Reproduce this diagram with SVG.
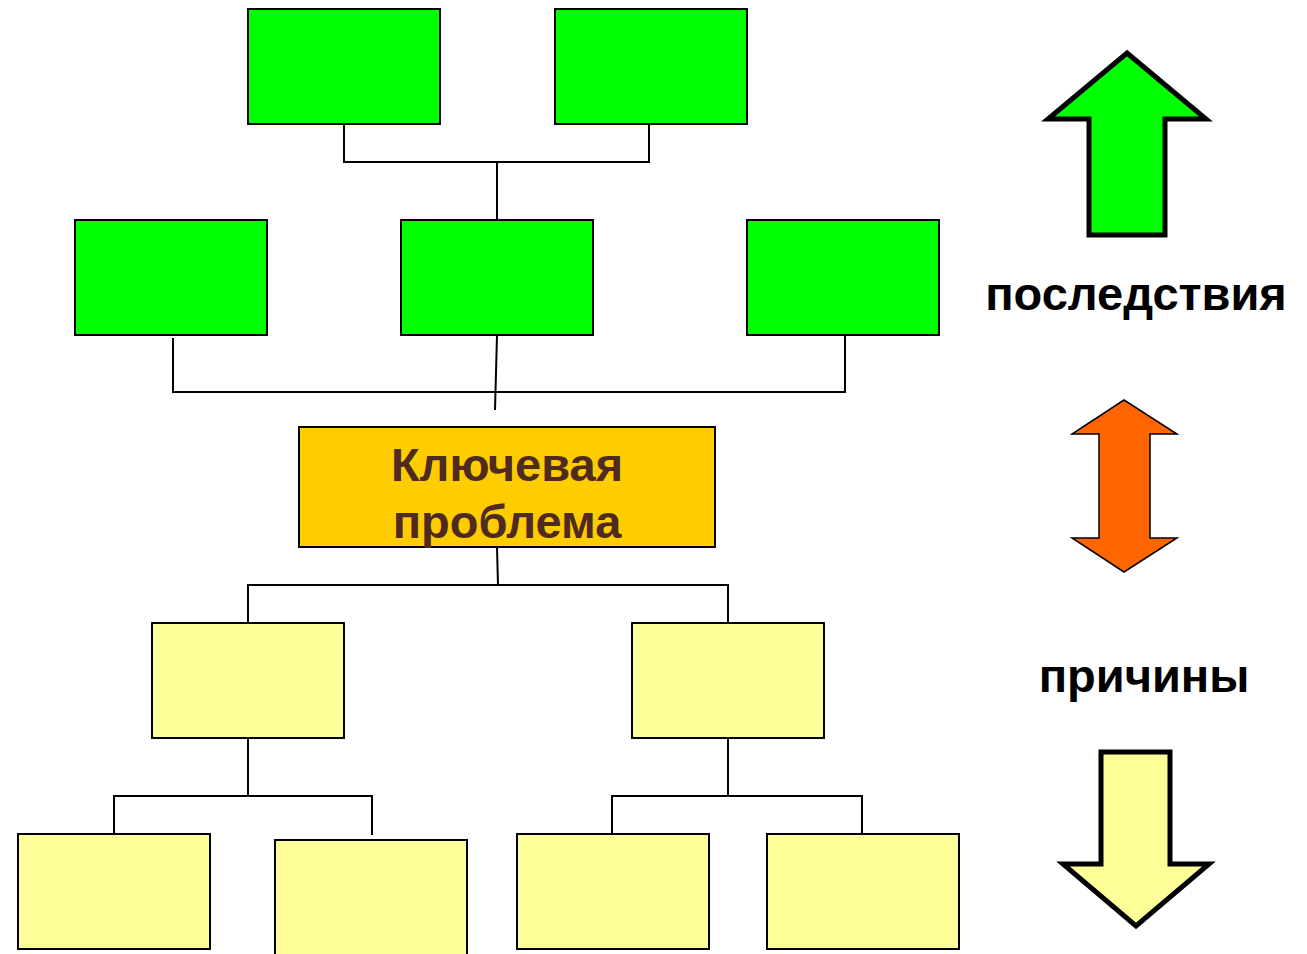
<svg xmlns="http://www.w3.org/2000/svg" width="1307" height="954" viewBox="0 0 1307 954">
<style>
.g{fill:#00FF00;stroke:#000;stroke-width:2}
.y{fill:#FFFF99;stroke:#000;stroke-width:2}
.k{fill:#FFCC00;stroke:#000;stroke-width:2}
.c{fill:none;stroke:#000;stroke-width:2}
.t{font-family:"Liberation Sans",Arial,sans-serif;font-weight:bold;font-size:47px;text-anchor:middle}
</style>
<rect width="1307" height="954" fill="#fff"/>
<g id="connectors">
<polyline class="c" points="344,124 344,162 649,162 649,124"/>
<line class="c" x1="497" y1="162" x2="497" y2="220"/>
<polyline class="c" points="173,338 173,392 845,392 845,335"/>
<line class="c" x1="497" y1="335" x2="495" y2="410"/>
<line class="c" x1="497" y1="547" x2="498" y2="585"/>
<polyline class="c" points="248,623 248,585 728,585 728,623"/>
<line class="c" x1="248" y1="738" x2="248" y2="796"/>
<polyline class="c" points="114,834 114,796 372,796 372,835"/>
<line class="c" x1="728" y1="738" x2="728" y2="796"/>
<polyline class="c" points="612,834 612,796 862,796 862,834"/>
</g>
<g id="c1"><rect class="g" x="248" y="9" width="192" height="115"/></g>
<g id="c2"><rect class="g" x="555" y="9" width="192" height="115"/></g>
<g id="c3"><rect class="g" x="75" y="220" width="192" height="115"/></g>
<g id="c4"><rect class="g" x="401" y="220" width="192" height="115"/></g>
<g id="c5"><rect class="g" x="747" y="220" width="192" height="115"/></g>
<g id="key"><rect class="k" x="299" y="427" width="416" height="120"/>
<text class="t" x="507" y="481" fill="#4F2A1F">Ключевая</text>
<text class="t" x="507" y="538" fill="#4F2A1F">проблема</text></g>
<g id="r1"><rect class="y" x="152" y="623" width="192" height="115"/></g>
<g id="r2"><rect class="y" x="632" y="623" width="192" height="115"/></g>
<g id="r3"><rect class="y" x="18" y="834" width="192" height="115"/></g>
<g id="r4"><rect class="y" x="275" y="840" width="192" height="120"/></g>
<g id="r5"><rect class="y" x="517" y="834" width="192" height="115"/></g>
<g id="r6"><rect class="y" x="767" y="834" width="192" height="115"/></g>
<g id="arrow-up"><polygon points="1127,53 1206,119 1165,119 1165,235 1089,235 1089,119 1048,119" fill="#00FF00" stroke="#000" stroke-width="5"/></g>
<g id="label-consequences"><text class="t" x="1136" y="310" fill="#000">последствия</text></g>
<g id="arrow-both"><polygon points="1124,400 1177,434 1150,434 1150,538 1177,538 1124,572 1072,538 1099,538 1099,434 1072,434" fill="#FF6600" stroke="#000" stroke-width="1.5"/></g>
<g id="label-causes"><text class="t" x="1144" y="692" fill="#000">причины</text></g>
<g id="arrow-down"><polygon points="1101,752 1170,752 1170,864 1209,864 1136,926 1063,864 1101,864" fill="#FFFF99" stroke="#000" stroke-width="5"/></g>
</svg>
